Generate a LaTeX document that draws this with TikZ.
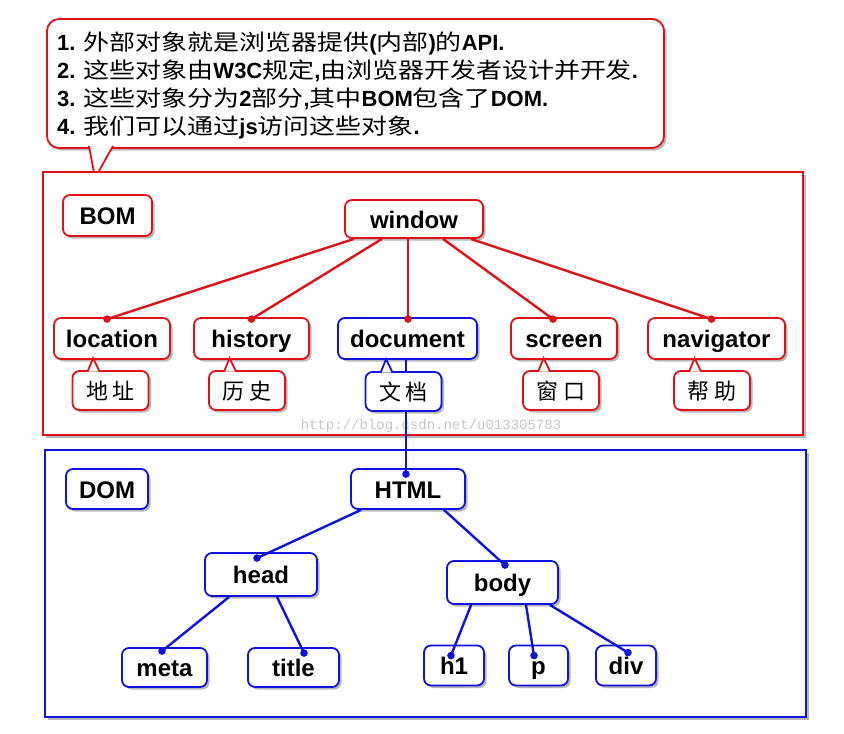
\documentclass[tikz,border=0pt]{standalone}
\usepackage{fontspec}
\setmainfont{Liberation Sans}
\newfontfamily\cjkwide[FakeStretch=1.18]{Noto Sans CJK SC}
\newfontfamily\cjklab{Noto Sans CJK SC}
\newfontfamily\wmfont{Liberation Mono}
\usetikzlibrary{shadows,calc}
\definecolor{nred}{RGB}{222,18,24}
\definecolor{nblue}{RGB}{18,18,222}
\newcommand\zhtxt[1]{{\mdseries\cjkwide #1}}
\newcommand\labfont{\fontsize{24}{28}\selectfont\bfseries}
\newcommand\notefont{\fontsize{22}{28}\selectfont\bfseries}
\newcommand\zhlab{\fontsize{22}{26}\selectfont\cjklab}
\tikzset{
 shad/.style={drop shadow={shadow xshift=2.5pt,shadow yshift=-2.5pt,opacity=0.28,fill=black}},
 rbox/.style={draw=nred, fill=white, line width=1.8pt, rounded corners=7pt, inner sep=0pt, font=\labfont, text height=23pt, text depth=5pt, shad},
 bbox/.style={rbox, draw=nblue},
 rlab/.style={rbox, font=\zhlab, text height=19pt, text depth=2pt, minimum width=76pt, minimum height=39pt},
 blab/.style={rlab, draw=nblue},
 rtail/.style={draw=nred, fill=white, line width=1.8pt, line join=miter},
 btail/.style={rtail, draw=nblue},
 rlink/.style={draw=nred, line width=2.4pt},
 blink/.style={draw=nblue, line width=2.4pt},
 notetext/.style={anchor=base west, inner sep=0pt, font=\notefont},
 bigbox/.style={line width=2.8pt, fill=white, shad},
}
\begin{document}
\begin{tikzpicture}[x=1pt,y=-1pt]
\useasboundingbox (0,0) rectangle (844,734);
\fill[white] (0,0) rectangle (844,734);

% callout
\draw[draw=nred, fill=white, line width=1.8pt, shad, rounded corners=12pt]
  (47,19) rectangle (664,148);
\draw[rtail] (89,146) -- (95,178) -- (113,146);
\node[notetext] (n1) at (57,50) {1. \zhtxt{外部对象就是浏览器提供}(\zhtxt{内部})\zhtxt{的}API.};
\node[notetext] (n2) at (57,78) {2. \zhtxt{这些对象由}W3C\zhtxt{规定},\zhtxt{由浏览器开发者设计并开发}.};
\node[notetext] (n3) at (57,106) {3. \zhtxt{这些对象分为}2\zhtxt{部分},\zhtxt{其中}BOM\zhtxt{包含了}DOM.};
\node[notetext] (n4) at (57,134) {4. \zhtxt{我们可以通过}js\zhtxt{访问这些对象}.};

% big frames
\draw[bigbox, draw=nred] (43,172) rectangle (803,435);
\draw[bigbox, draw=nblue] (45,450) rectangle (806,717);

% watermark
\node[font=\wmfont\fontsize{14}{14}\selectfont, text=black!22, inner sep=0pt] (wm) at (431,426) {http://blog.csdn.net/u013305783};

% BOM nodes
\node[rbox, minimum width=89pt, minimum height=41pt] (bom) at (107.5,215.5) {BOM};
\node[rbox, minimum width=138pt, minimum height=38pt] (win) at (414,219) {window};
\node[rbox, minimum width=116pt, minimum height=41pt] (loc) at (112,338.5) {location};
\node[rbox, minimum width=115pt, minimum height=41pt] (his) at (251.5,338.5) {history};
\node[bbox, minimum width=139pt, minimum height=41pt] (doc) at (407.5,338.5) {document};
\node[rbox, minimum width=106pt, minimum height=41pt] (scr) at (564,338.5) {screen};
\node[rbox, minimum width=137pt, minimum height=41pt] (nav) at (716.5,338.5) {navigator};

% DOM nodes
\node[bbox, minimum width=82pt, minimum height=40pt] (dom) at (107,489) {DOM};
\node[bbox, minimum width=114pt, minimum height=40pt] (html) at (408,489) {HTML};
\node[bbox, minimum width=112pt, minimum height=43pt] (head) at (261,574.5) {head};
\node[bbox, minimum width=111pt, minimum height=43pt] (body) at (502.5,582.5) {body};
\node[bbox, minimum width=85pt, minimum height=39pt] (meta) at (164.5,667.5) {meta};
\node[bbox, minimum width=91pt, minimum height=39pt] (ttl) at (293.5,667.5) {title};
\node[bbox, minimum width=60pt, minimum height=40pt] (hone) at (454,665.5) {h1};
\node[bbox, minimum width=59pt, minimum height=40pt] (pp) at (538.5,665.5) {p};
\node[bbox, minimum width=60pt, minimum height=40pt] (dv) at (626,665.5) {div};

% BOM links
\draw[rlink] ($(win.south west)+(10,0)$) -- ($(loc.north)+(-5,2)$);
\draw[rlink] ($(win.south)+(-32,0)$) -- ($(his.north)+(0,2)$);
\draw[rlink] ($(win.south)+(-6,0)$) -- ($(doc.north)+(0.5,2)$);
\draw[rlink] ($(win.south)+(29,0)$) -- ($(scr.north)+(-11,2)$);
\draw[rlink] ($(win.south east)+(-13,0)$) -- ($(nav.north)+(-5,2)$);
\foreach \n/\dx in {loc/-5, his/0, doc/0.5, scr/-11, nav/-5}
  \fill[nred] ($(\n.north)+(\dx,2)$) circle (3.8pt);

% document -> HTML
\draw[blink] ($(doc.south)+(-1.5,0)$) -- ($(html.north)+(-2,6)$);

% DOM links
\draw[blink] ($(html.south west)+(11,0)$) -- ($(head.north)+(-4,6)$);
\draw[blink] ($(html.south east)+(-22,0)$) -- ($(body.north)+(2.5,5)$);
\draw[blink] ($(head.south west)+(25,0)$) -- ($(meta.north)+(-2.5,4)$);
\draw[blink] ($(head.south)+(16,0)$) -- ($(ttl.north)+(10.5,6)$);
\draw[blink] ($(body.south west)+(25,0)$) -- ($(hone.north)+(-3,11)$);
\draw[blink] ($(body.south)+(23.5,0)$) -- ($(pp.north)+(-4.5,11)$);
\draw[blink] ($(body.south east)+(-9,0)$) -- ($(dv.north)+(2,8)$);
\foreach \n/\dx/\dy in {html/-2/6, head/-4/6, body/2.5/5, meta/-2.5/4, ttl/10.5/6, hone/-3/11, pp/-4.5/11, dv/2/8}
  \fill[nblue] ($(\n.north)+(\dx,\dy)$) circle (3.8pt);

% Chinese label callouts
\node[rlab] (lzh) at (110.5,390.5) {地\kern5pt 址};
\node[rlab] (hzh) at (247,390.5) {历\kern5pt 史};
\node[blab] (dzh) at (403.5,391.5) {文\kern5pt 档};
\node[rlab] (szh) at (561,390.5) {窗\kern5pt 口};
\node[rlab] (nzh) at (712,390.5) {帮\kern5pt 助};
\foreach \n/\st in {lzh/rtail, hzh/rtail, dzh/btail, szh/rtail, nzh/rtail}
  \draw[\st] ($(\n.north west)+(16,1.5)$) -- ($(\n.north west)+(21.5,-12)$) -- ($(\n.north west)+(28,1.5)$);
\end{tikzpicture}
\end{document}
